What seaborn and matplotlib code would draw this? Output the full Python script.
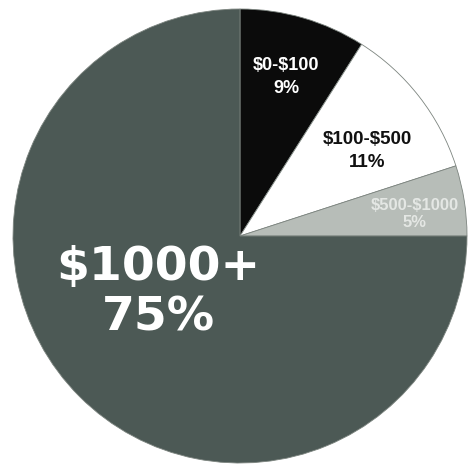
import matplotlib
matplotlib.use("Agg")
import matplotlib.pyplot as plt
import seaborn as sns

# Share of spending by price band
categories = ["$0-$100", "$100-$500", "$500-$1000", "$1000+"]
shares = [9, 11, 5, 75]
slice_colors = ["#0b0b0b", "#ffffff", "#b7bdb8", "#4c5955"]
label_colors = ["#ffffff", "#111111", "#e4e7e4", "#ffffff"]

sns.set_theme(style="white")
plt.rcParams["text.parse_math"] = False

W, H = 471, 473
fig = plt.figure(figsize=(W / 100, H / 100), dpi=100)
ax = fig.add_axes([0, 0, 1, 1])

cx, cy, r = 240, H - 236, 227

ax.pie(
    shares,
    colors=slice_colors,
    startangle=90,
    counterclock=False,
    center=(cx, cy),
    radius=r,
    wedgeprops=dict(edgecolor="#7c847f", linewidth=0.6),
    frame=True,
)
ax.set_xlim(0, W)
ax.set_ylim(0, H)
ax.set_aspect("equal")
ax.axis("off")

small = ["Liberation Sans", "DejaVu Sans"]
heavy = ["DejaVu Sans"]

# label placements (x, y of the label block centre) and sizes
label_pos = [(286, H - 77), (367, H - 151), (415, H - 214), (158, H - 293)]
label_size = [13, 13.5, 12, 34]
label_family = [small, small, small, heavy]
label_spacing = [1.45, 1.4, 1.15, 1.15]

for cat, pct, col, (x, y), fs, fam, ls in zip(
    categories, shares, label_colors, label_pos, label_size, label_family, label_spacing
):
    ax.text(
        x, y, f"{cat}\n{pct}%",
        ha="center", va="center", color=col, fontsize=fs,
        fontweight="bold", family=fam, linespacing=ls, parse_math=False,
    )

fig.savefig("out.png", dpi=100, facecolor="white")
